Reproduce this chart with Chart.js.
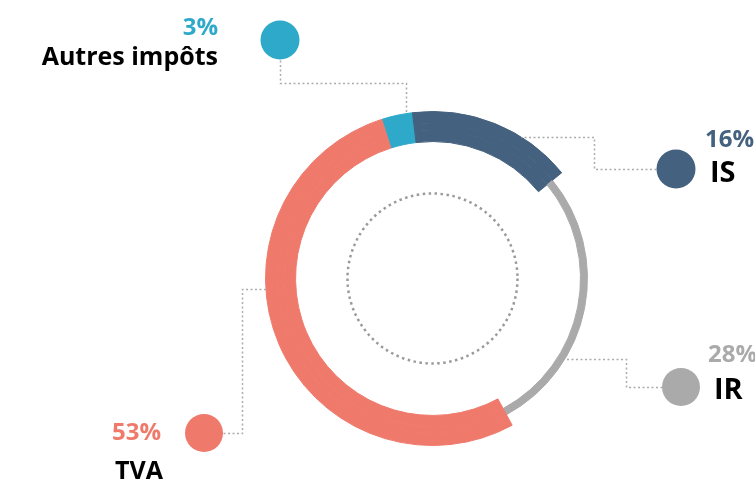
<!DOCTYPE html>
<html>
<head>
<meta charset="utf-8">
<script src="https://cdn.jsdelivr.net/npm/chart.js@4"></script>
<style>
  html, body { margin: 0; padding: 0; background: #fff; }
  #wrap { position: relative; width: 755px; height: 482px; overflow: hidden; }
  canvas { position: absolute; left: 0; top: 0; }
  .lbl { position: absolute; font-family: "Open Sans", Lato, sans-serif; font-weight: 700; line-height: 1; white-space: nowrap; }
</style>
</head>
<body>
<div id="wrap">
  <canvas id="chart" width="755" height="482"></canvas>
  <div class="lbl" style="right:537px; top:14px; font-size:24px; color:#2ea9c9;">3%</div>
  <div class="lbl" style="right:537px; top:42.5px; font-size:25px; color:#000;">Autres impôts</div>
  <div class="lbl" style="left:705px; top:126px; font-size:24px; color:#44617f;">16%</div>
  <div class="lbl" style="left:710px; top:156px; font-size:29px; color:#000;">IS</div>
  <div class="lbl" style="left:708px; top:341px; font-size:24px; color:#aaaaaa;">28%</div>
  <div class="lbl" style="left:714px; top:373px; font-size:29px; color:#000;">IR</div>
  <div class="lbl" style="left:112px; top:419px; font-size:24px; color:#ef7a6c;">53%</div>
  <div class="lbl" style="left:115px; top:456.5px; font-size:25px; color:#000;">TVA</div>
</div>
<script>
// données
const categories = ['Autres impôts', 'IS', 'IR', 'TVA'];
const parts = [3, 16, 28, 53];
const couleurs = ['#2ea9c9', '#44617f', '#aaaaaa', '#ef7a6c'];

// IR est un anneau fin au milieu de la bande : on masque IR dans les anneaux externe et interne
const masque = couleurs.map((c, i) => i === 2 ? 'rgba(0,0,0,0)' : c);

// lignes pointillées + pastilles des étiquettes
const reperes = [
  { rond: [280, 40, 19.5], ligne: [[280, 60], [280, 83], [406, 83], [406, 112]], couleur: couleurs[0] },
  { rond: [676, 169, 19.5], ligne: [[656, 169], [594, 169], [594, 137], [521, 137]], couleur: couleurs[1] },
  { rond: [681, 387, 19], ligne: [[662, 387], [626, 387], [626, 359], [565, 359]], couleur: couleurs[2] },
  { rond: [204, 433, 19], ligne: [[223, 433], [242, 433], [242, 289], [266, 289]], couleur: couleurs[3] }
];

const decor = {
  id: 'decor',
  afterDraw(chart) {
    const ctx = chart.ctx;
    const arc = chart.getDatasetMeta(0).data[0];
    ctx.save();
    // cercle pointillé au centre
    ctx.strokeStyle = '#9a9a9a';
    ctx.lineWidth = 2.5;
    ctx.setLineDash([2.5, 3.5]);
    ctx.beginPath();
    ctx.arc(arc.x, arc.y, 85, 0, Math.PI * 2);
    ctx.stroke();
    // lignes de rappel
    ctx.lineWidth = 1.5;
    ctx.strokeStyle = '#ababab';
    ctx.setLineDash([2, 2.5]);
    reperes.forEach(r => {
      ctx.beginPath();
      r.ligne.forEach((p, i) => i ? ctx.lineTo(p[0] + 0.5, p[1] + 0.5) : ctx.moveTo(p[0] + 0.5, p[1] + 0.5));
      ctx.stroke();
    });
    ctx.setLineDash([]);
    reperes.forEach(r => {
      ctx.fillStyle = r.couleur;
      ctx.beginPath();
      ctx.arc(r.rond[0], r.rond[1], r.rond[2], 0, Math.PI * 2);
      ctx.fill();
    });
    ctx.restore();
  }
};

const ctx = document.getElementById('chart').getContext('2d');
new Chart(ctx, {
  type: 'doughnut',
  data: {
    labels: categories,
    datasets: [
      { data: parts, backgroundColor: masque, borderColor: masque, borderWidth: 1, weight: 12 },
      { data: parts, backgroundColor: couleurs, borderColor: couleurs, borderWidth: 1, weight: 7 },
      { data: parts, backgroundColor: masque, borderColor: masque, borderWidth: 1, weight: 11 }
    ]
  },
  options: {
    responsive: false,
    animation: false,
    rotation: -17.7,
    cutout: '82%',
    layout: { padding: { left: 265, top: 111, right: 155, bottom: 36 } },
    plugins: { legend: { display: false }, tooltip: { enabled: false } }
  },
  plugins: [decor]
});
</script>
</body>
</html>
